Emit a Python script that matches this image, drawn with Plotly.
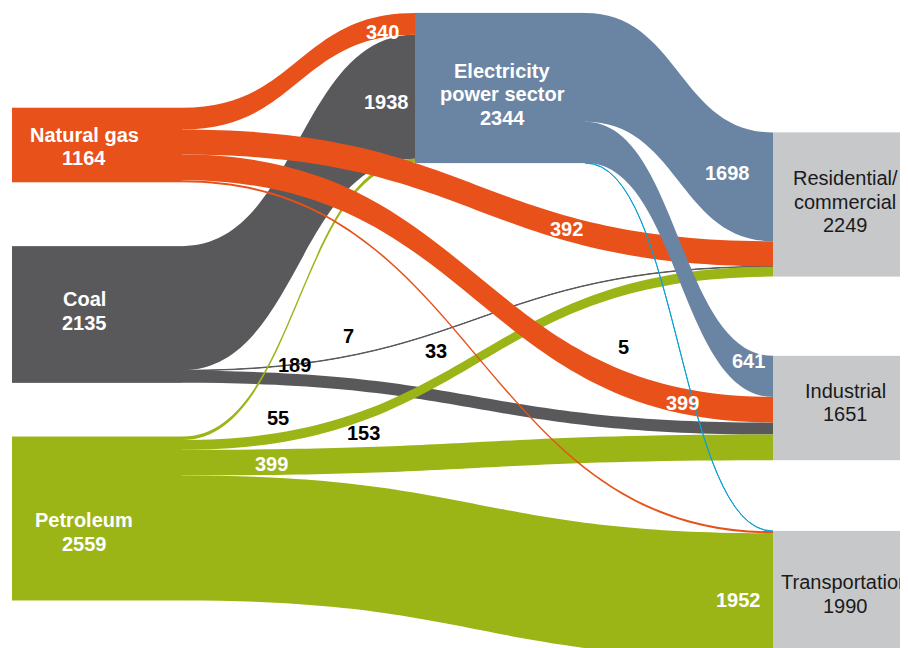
import plotly.graph_objects as go

# nodes: sources, power sector, end-use sectors
node_names = ["Natural gas", "Coal", "Petroleum", "Electricity\npower sector",
              "Residential/\ncommercial", "Industrial", "Transportation"]
node_totals = [1164, 2135, 2559, 2344, 2249, 1651, 1990]
node_colors = ["#E8511A", "#59595B", "#9BB517", "#6A85A3", "#C7C8CA", "#C7C8CA", "#C7C8CA"]

# flows (coal first so natural gas and electricity draw on top)
link_source = [1, 1, 1, 2, 2, 2, 2, 0, 0, 0, 0, 3, 3, 3]
link_target = [3, 4, 5, 3, 4, 5, 6, 3, 4, 5, 6, 4, 5, 6]
link_value = [1938, 7, 189, 55, 153, 399, 1952, 340, 392, 399, 33, 1698, 641, 5]
link_colors = ["#59595B"] * 3 + ["#9BB517"] * 4 + ["#E8511A"] * 4 + ["#6A85A3", "#6A85A3", "#0AA1D4"]

# page body adds an 8px offset, so all pixel positions below are shifted by it
OFF = 8
W, H = 908, 648
THICK = 170

# left edge and vertical centre of each node in pixels (as seen on the page)
node_left = [12, 12, 12, 415, 773, 773, 773]
node_mid = [145, 314.5, 518.5, 88, 204.5, 408, 594.7]
node_x = [(l + THICK / 2 - OFF) / W for l in node_left]
node_y = [(m - OFF) / H for m in node_mid]

# node label lines: (centre x, first-line y)
node_label_pos = [(84, 135), (84, 299), (84, 520), (502, 71), (845, 178), (845, 391), (845, 582)]

# where the flow values are written: (x px, y px, white text?)
label_pos = {
    (1, 3): (386, 102, True), (1, 4): (348, 336, False), (1, 5): (294, 365, False),
    (2, 3): (278, 418, False), (2, 4): (363, 433, False), (2, 5): (271, 464, True),
    (2, 6): (738, 600, True), (0, 3): (382, 32, True), (0, 4): (566, 229, True),
    (0, 5): (682, 403, True), (0, 6): (436, 351, False), (3, 4): (727, 173, True),
    (3, 5): (748, 361, True), (3, 6): (623, 347, False),
}

FONT = "Liberation Sans, Arial, sans-serif"
LINE = 23.5

fig = go.Figure(go.Sankey(
    arrangement="fixed",
    domain=dict(x=[0, 1], y=[0, 1]),
    node=dict(
        pad=136, thickness=THICK,
        x=node_x, y=node_y,
        color=node_colors,
        line=dict(width=0),
        hoverinfo="none",
    ),
    link=dict(
        source=link_source, target=link_target, value=link_value,
        color=link_colors, hoverinfo="none",
        line=dict(width=0),
    ),
))


def add_text(ann, txt, px, py, col, bold):
    if bold:
        txt = "<b>" + txt + "</b>"
    ann.append(dict(x=(px - OFF) / W, y=1 - (py - OFF) / H, xref="paper", yref="paper",
                    xanchor="center", yanchor="middle", text=txt, showarrow=False,
                    font=dict(family=FONT, size=20, color=col)))


annotations = []
for i, (name, total) in enumerate(zip(node_names, node_totals)):
    cx, cy = node_label_pos[i]
    lines = name.split("\n") + [str(total)]
    white = i < 4
    for k, ln in enumerate(lines):
        add_text(annotations, ln, cx, cy + k * LINE, "white" if white else "#1a1a1a", white)

for s, t, v in zip(link_source, link_target, link_value):
    px, py, white = label_pos[(s, t)]
    add_text(annotations, str(v), px, py, "white" if white else "black", True)

fig.update_layout(
    width=W, height=H,
    margin=dict(l=0, r=0, t=0, b=0),
    paper_bgcolor="white",
    annotations=annotations,
)

fig.write_html("out.html")
